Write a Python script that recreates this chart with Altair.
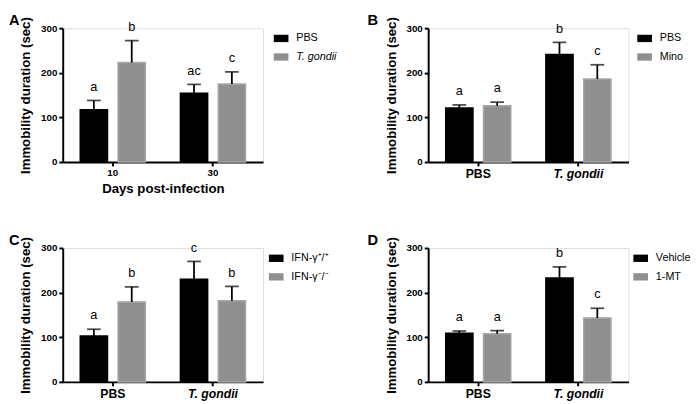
import altair as alt
import pandas as pd

FONT = "Liberation Sans"

# ---- Panel A ----
a_groups = ["10", "30"]
a_series = ["PBS", "T. gondii"]
a_mean = [117, 223, 154, 175]
a_err = [21, 49, 20, 27]
a_sig = ["a", "b", "ac", "c"]

# ---- Panel B ----
b_groups = ["PBS", "T. gondii"]
b_series = ["PBS", "Mino"]
b_mean = [121, 126, 241, 186]
b_err = [7, 8, 27, 32]
b_sig = ["a", "a", "b", "c"]

# ---- Panel C ----
c_groups = ["PBS", "T. gondii"]
c_series = ["IFN-γ⁺/⁺", "IFN-γ⁻/⁻"]
c_mean = [103, 179, 230, 182]
c_err = [15, 34, 40, 32]
c_sig = ["a", "b", "c", "b"]

# ---- Panel D ----
d_groups = ["PBS", "T. gondii"]
d_series = ["Vehicle", "1-MT"]
d_mean = [109, 108, 233, 143]
d_err = [5, 7, 25, 22]
d_sig = ["a", "a", "b", "c"]

y_ticks = [0, 100, 200, 300]
y_title = "Immobility duration (sec)"
FILLS = ["#000000", "#8f8f8f"]
STROKES = ["#000000", "#a6a6a6"]


def panel(letter, groups, series, mean, err, sig, xtitle, xlabel_size,
          legend_x, letter_dx):
    rows = []
    k = 0
    for g in groups:
        for s in series:
            rows.append({"group": g, "series": s, "mean": mean[k],
                         "upper": mean[k] + err[k], "sig": sig[k]})
            k += 1
    df = pd.DataFrame(rows)
    base = alt.Chart(df)

    x = alt.X("group:N", sort=groups, title=xtitle,
              scale=alt.Scale(paddingInner=0.35, paddingOuter=0.175),
              axis=alt.Axis(labelAngle=0, labelFontSize=xlabel_size,
                            labelFontWeight="bold", labelFont=FONT,
                            labelFontStyle={"condition": {"test": "datum.value === 'T. gondii'", "value": "italic"}, "value": "normal"},
                            labelColor="black", labelPadding=2,
                            domainColor="black", domainWidth=2,
                            tickColor="black", tickWidth=2, tickSize=4,
                            titleFont=FONT, titleFontSize=13.5,
                            titleFontWeight="bold", titleColor="black",
                            titlePadding=4))
    xo = alt.XOffset("series:N", sort=series,
                     scale=alt.Scale(paddingInner=0.28, paddingOuter=0))
    y = alt.Y("mean:Q", title=y_title,
              scale=alt.Scale(domain=[0, 300], nice=False),
              axis=alt.Axis(values=y_ticks, grid=False, labelFontSize=10,
                            labelFontWeight="bold", labelFont=FONT,
                            labelColor="black", labelPadding=2,
                            domainColor="black", domainWidth=2,
                            tickColor="black", tickWidth=2, tickSize=4,
                            titleFont=FONT, titleFontSize=13.5,
                            titleFontWeight="bold", titleColor="black",
                            titlePadding=8))

    legend_kw = dict(title=None, orient="none", legendX=legend_x, legendY=3,
                     symbolType="M-1,-0.5H1V0.5H-1Z", symbolSize=225,
                     labelFontSize=11, labelFont=FONT, labelColor="black",
                     labelOffset=8, rowPadding=6, symbolStrokeWidth=0,
                     symbolOpacity=1)
    if "T. gondii" in series:
        legend_kw["labelFontStyle"] = {"expr": "datum.label == 'T. gondii' ? 'italic' : 'normal'"}

    bars = base.mark_bar(strokeWidth=1.5).encode(
        x=x, xOffset=xo, y=y,
        color=alt.Color("series:N", sort=series,
                        scale=alt.Scale(domain=series, range=FILLS),
                        legend=alt.Legend(**legend_kw)),
        stroke=alt.Stroke("series:N", scale=alt.Scale(domain=series, range=STROKES),
                          legend=None),
    )
    rules = base.mark_rule(color="black", strokeWidth=1.8).encode(
        x=x, xOffset=xo, y="mean:Q", y2="upper:Q")
    caps = base.mark_tick(color="black", thickness=1.8, size=14,
                          orient="horizontal").encode(
        x=x, xOffset=xo, y="upper:Q")
    texts = base.mark_text(baseline="alphabetic", dy=-10, fontSize=13,
                           font=FONT, color="black").encode(
        x=x, xOffset=xo, y="upper:Q", text="sig:N")
    tag = alt.Chart(pd.DataFrame({"t": [letter]})).mark_text(
        align="left", baseline="alphabetic", fontSize=15, fontWeight="bold",
        font=FONT, color="black").encode(
        text="t:N", x=alt.value(letter_dx), y=alt.value(-3))

    return alt.layer(bars, rules, caps, texts, tag).properties(
        width=205, height=137)


pA = panel("A", a_groups, a_series, a_mean, a_err, a_sig,
           "Days post-infection", 10, 216, -55)
pB = panel("B", b_groups, b_series, b_mean, b_err, b_sig, None, 12.5, 214, -62)
pC = panel("C", c_groups, c_series, c_mean, c_err, c_sig, None, 12.5, 211, -55)
pD = panel("D", d_groups, d_series, d_mean, d_err, d_sig, None, 12.5, 210, -62)

chart = alt.concat(pA, pB, pC, pD, columns=2,
                   spacing={"row": 38, "column": 29}).resolve_scale(
    color="independent", stroke="independent", xOffset="independent"
).properties(padding=0).configure_view(stroke=None).configure(font=FONT)

chart.save("out.html", embed_options={"renderer": "svg", "actions": False})
